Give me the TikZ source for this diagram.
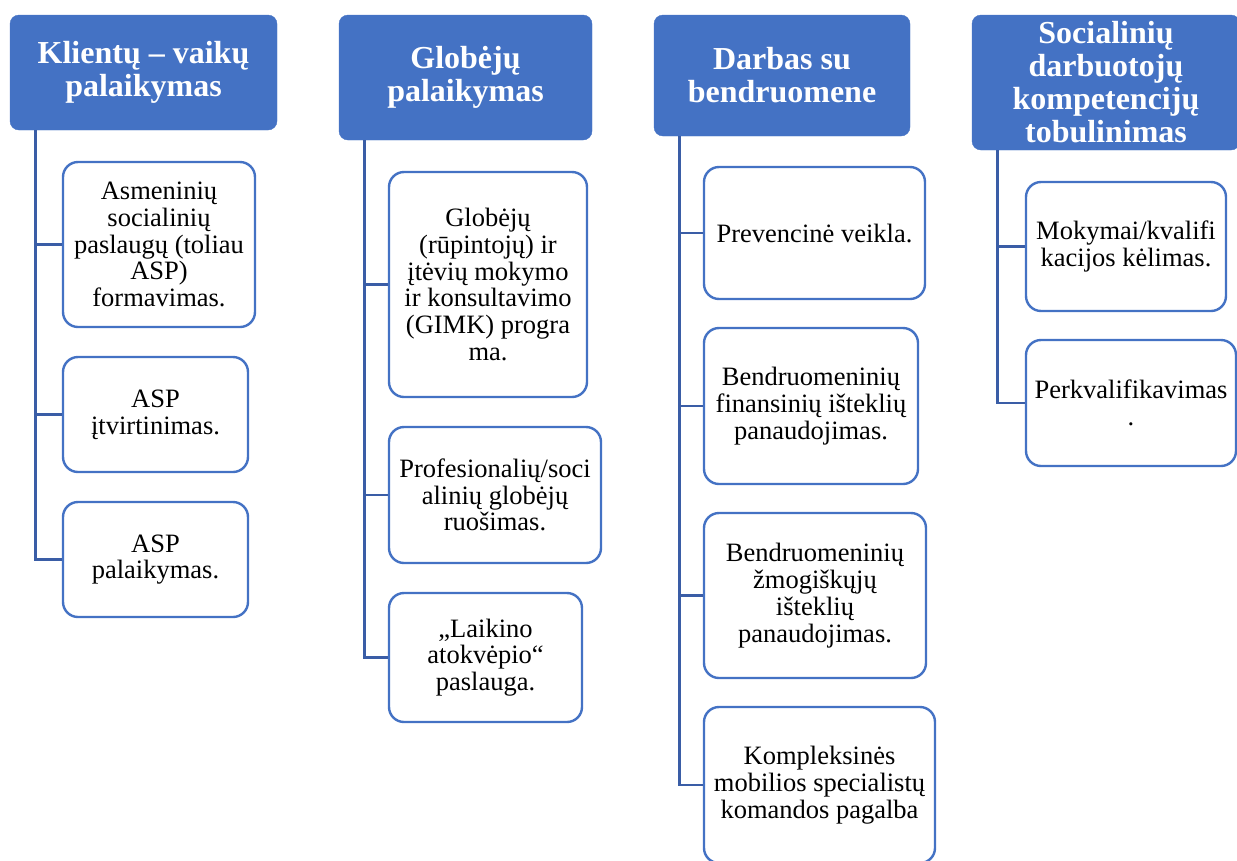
\documentclass[tikz,border=0pt]{standalone}
\usepackage{fontspec}
\setmainfont{Liberation Serif}
\definecolor{hdblue}{HTML}{4472C4}
\definecolor{lnblue}{HTML}{3A5DA6}

\begin{document}
\begin{tikzpicture}[x=1pt,y=-1pt,
	head/.style={fill=hdblue,draw=hdblue,rounded corners=9pt,text=white,align=center,inner sep=0pt,font=\fontsize{32}{33}\selectfont\bfseries},
	item/.style={draw=hdblue,line width=2.4pt,fill=white,rounded corners=15pt,align=center,inner sep=0pt,font=\fontsize{26.5}{26.8}\selectfont},
	conn/.style={draw=lnblue,line width=2.8pt}]

\useasboundingbox (0,0) rectangle (1237,860);

% headers
\node[head,minimum width=267pt,minimum height=115pt](k0) at (143.5,72.5){Klientų – vaikų\\palaikymas};
\node[head,minimum width=253pt,minimum height=125pt](g0) at (465.5,77.5){Globėjų\\palaikymas};
\node[head,minimum width=256pt,minimum height=121pt](d0) at (782,75.5){Darbas su\\bendruomene};
\node[head,minimum width=268pt,minimum height=135pt](s0) at (1106,82.5){Socialinių\\darbuotojų\\kompetencijų\\tobulinimas};

% column 1
\node[item,minimum width=192pt,minimum height=165pt](k1) at (159,244.5){Asmeninių\\socialinių\\paslaugų (toliau\\ASP)\\formavimas.};
\node[item,minimum width=185pt,minimum height=115pt](k2) at (155.5,414.5){ASP\\įtvirtinimas.};
\node[item,minimum width=185pt,minimum height=115pt](k3) at (155.5,559.5){ASP\\palaikymas.};

% column 2
\node[item,minimum width=198pt,minimum height=225pt](g1) at (488,284.5){Globėjų\\(rūpintojų) ir\\įtėvių mokymo\\ir konsultavimo\\(GIMK) progra\\ma.};
\node[item,minimum width=212pt,minimum height=136pt](g2) at (495,495){Profesionalių/soci\\alinių globėjų\\ruošimas.};
\node[item,minimum width=193pt,minimum height=129pt](g3) at (485.5,657.5){„Laikino\\atokvėpio“\\paslauga.};

% column 3
\node[item,minimum width=221pt,minimum height=132pt](d1) at (814.5,233){Prevencinė veikla.};
\node[item,minimum width=214pt,minimum height=156pt](d2) at (811,406){Bendruomeninių\\finansinių išteklių\\panaudojimas.};
\node[item,minimum width=222pt,minimum height=165pt](d3) at (815,595.5){Bendruomeninių\\žmogiškųjų\\išteklių\\panaudojimas.};
\node[item,minimum width=231pt,minimum height=156pt](d4) at (819.5,785){Kompleksinės\\mobilios specialistų\\komandos pagalba};

% column 4
\node[item,minimum width=200pt,minimum height=129pt](s1) at (1126,246.5){Mokymai/kvalifi\\kacijos kėlimas.};
\node[item,minimum width=210pt,minimum height=126pt](s2) at (1131,403){Perkvalifikavimas\\.};

% connectors
\foreach \h/\kids in {k0/{k1,k2,k3},g0/{g1,g2,g3},d0/{d1,d2,d3,d4},s0/{s1,s2}}{
	\foreach \c in \kids
		\draw[conn]([xshift=26pt]\h.south west)|-(\c.west);
}

\end{tikzpicture}
\end{document}
